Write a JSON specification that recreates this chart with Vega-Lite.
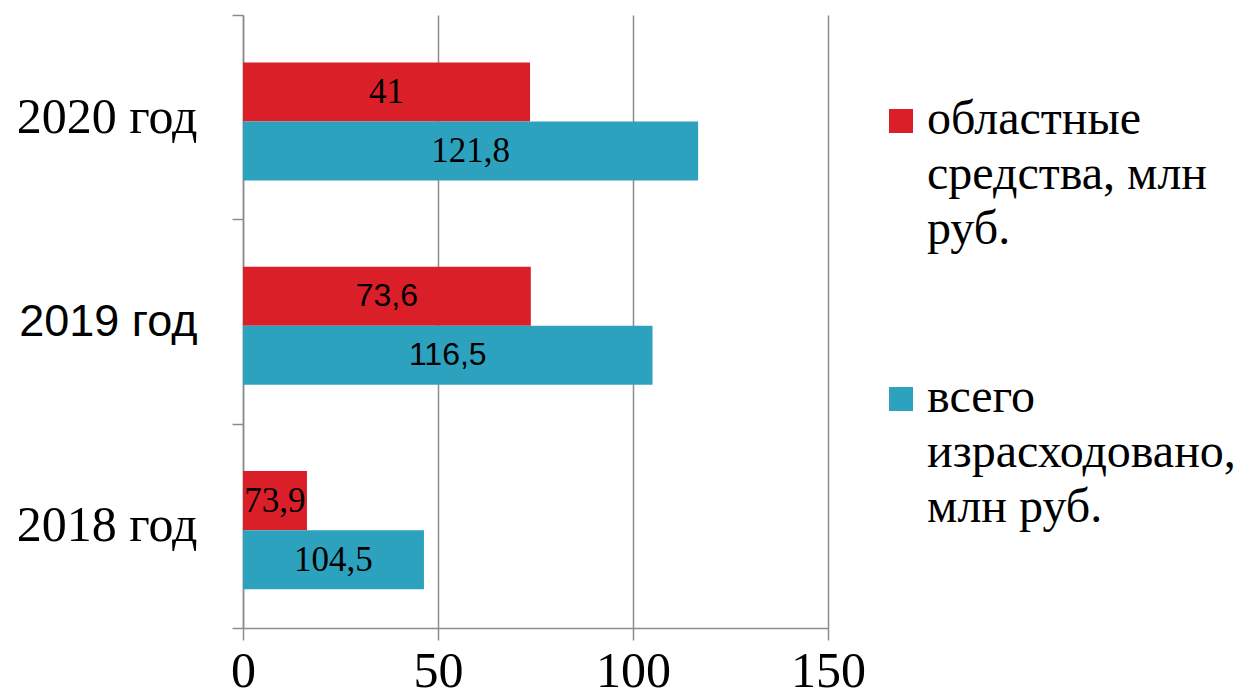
{
  "$schema": "https://vega.github.io/schema/vega-lite/v6.json",
  "width": 585,
  "height": 613,
  "autosize": {"type": "none"},
  "padding": {"left": 243, "top": 15, "right": 411, "bottom": 67},
  "background": "white",
  "config": {"view": {"stroke": null}},
  "data": {
    "values": [
      {"year": "2020 год", "series": "областные средства, млн руб.", "value": 73.6, "label": "41"},
      {"year": "2020 год", "series": "всего израсходовано, млн руб.", "value": 116.7, "label": "121,8"},
      {"year": "2019 год", "series": "областные средства, млн руб.", "value": 73.8, "label": "73,6"},
      {"year": "2019 год", "series": "всего израсходовано, млн руб.", "value": 105.0, "label": "116,5"},
      {"year": "2018 год", "series": "областные средства, млн руб.", "value": 16.4, "label": "73,9"},
      {"year": "2018 год", "series": "всего израсходовано, млн руб.", "value": 46.4, "label": "104,5"}
    ]
  },
  "encoding": {
    "y": {
      "field": "year",
      "type": "nominal",
      "sort": ["2020 год", "2019 год", "2018 год"],
      "scale": {"paddingInner": 0, "paddingOuter": 0},
      "axis": {
        "title": null,
        "domainColor": "#8c8c8c",
        "domainWidth": 1.5,
        "tickColor": "#8c8c8c",
        "tickWidth": 1.5,
        "tickSize": 11,
        "tickBand": "extent",
        "labelPadding": 35,
        "labelLimit": 400,
        "labelColor": "black",
        "labelFont": {"condition": {"test": "datum.value === '2019 год'", "value": "Liberation Sans"}, "value": "Liberation Serif"},
        "labelFontSize": {"condition": {"test": "datum.value === '2019 год'", "value": 45}, "value": 50},
        "grid": false
      }
    },
    "yOffset": {
      "field": "series",
      "type": "nominal",
      "sort": ["областные средства, млн руб.", "всего израсходовано, млн руб."],
      "scale": {"paddingInner": 0, "paddingOuter": 0.73, "align": 0.55}
    }
  },
  "layer": [
    {
      "mark": {"type": "bar"},
      "encoding": {
        "x": {
          "field": "value",
          "type": "quantitative",
          "scale": {"domain": [0, 150], "nice": false},
          "axis": {
            "title": null,
            "values": [0, 50, 100, 150],
            "grid": true,
            "gridColor": "#8c8c8c",
            "gridWidth": 1.5,
            "domainColor": "#8c8c8c",
            "domainWidth": 1.5,
            "tickColor": "#8c8c8c",
            "tickWidth": 1.5,
            "tickSize": 12,
            "labelPadding": 6,
            "labelFont": "Liberation Serif",
            "labelFontSize": 50,
            "labelColor": "black",
            "labelFlush": false
          }
        },
        "color": {
          "field": "series",
          "type": "nominal",
          "sort": ["областные средства, млн руб.", "всего израсходовано, млн руб."],
          "scale": {"domain": ["областные средства, млн руб.", "всего израсходовано, млн руб."], "range": ["#DA1F28", "#2DA2BF"]},
          "legend": {
            "title": null,
            "orient": "none",
            "legendX": 634,
            "legendY": 82,
            "symbolType": "square",
            "symbolSize": 576,
            "symbolStrokeWidth": 0,
            "labelFont": "Liberation Serif",
            "labelFontSize": 48,
            "labelColor": "black",
            "labelLimit": 500,
            "labelOffset": 2,
            "labelBaseline": "alphabetic",
            "rowPadding": 120,
            "labelExpr": "datum.label == 'областные средства, млн руб.' ? ['областные', 'средства, млн', 'руб.'] : ['всего', 'израсходовано,', 'млн руб.']",
            "encode": {"labels": {"update": {"lineHeight": {"value": 55}, "dy": {"value": 13}}}}
          }
        }
      }
    },
    {
      "transform": [
        {"filter": "datum.year != '2019 год'"},
        {"calculate": "datum.value / 2", "as": "mid"}
      ],
      "mark": {"type": "text", "font": "Liberation Serif", "fontSize": 35, "color": "black", "baseline": "middle", "align": "center"},
      "encoding": {
        "x": {"field": "mid", "type": "quantitative"},
        "text": {"field": "label", "type": "nominal"}
      }
    },
    {
      "transform": [
        {"filter": "datum.year == '2019 год'"},
        {"calculate": "datum.value / 2", "as": "mid"}
      ],
      "mark": {"type": "text", "font": "Liberation Sans", "fontSize": 32, "color": "black", "baseline": "middle", "align": "center"},
      "encoding": {
        "x": {"field": "mid", "type": "quantitative"},
        "text": {"field": "label", "type": "nominal"}
      }
    }
  ]
}
